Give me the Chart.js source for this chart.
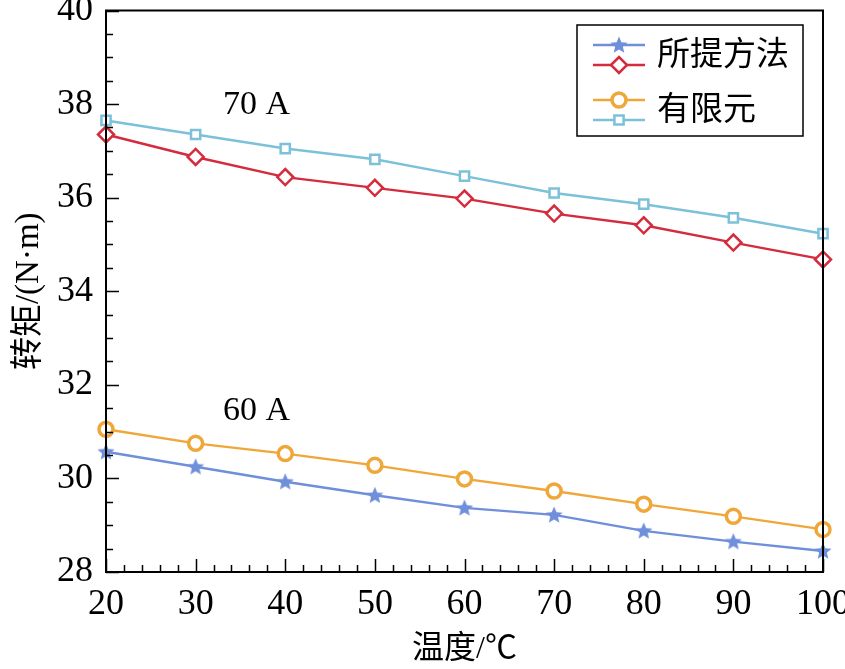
<!DOCTYPE html>
<html>
<head>
<meta charset="utf-8">
<script src="https://cdn.jsdelivr.net/npm/chart.js@4.4.0/dist/chart.umd.min.js"></script>
<style>
  html, body { margin: 0; padding: 0; background: #fff; }
</style>
</head>
<body>
<canvas id="grafico" width="845" height="669"></canvas>
<script>
// dados
const temperaturas = [20, 30, 40, 50, 60, 70, 80, 90, 100];
const proposto60 = [30.57, 30.25, 29.93, 29.64, 29.37, 29.22, 28.88, 28.65, 28.45];
const proposto70 = [37.35, 36.87, 36.44, 36.21, 35.98, 35.66, 35.41, 35.04, 34.68];
const fem60 = [31.05, 30.75, 30.53, 30.28, 29.99, 29.73, 29.45, 29.19, 28.91];
const fem70 = [37.65, 37.35, 37.05, 36.82, 36.46, 36.10, 35.86, 35.57, 35.23];
const yTicks = [28, 30, 32, 34, 36, 38, 40];
const xTicks = [20, 30, 40, 50, 60, 70, 80, 90, 100];
const legendaNomes = ["所提方法", "有限元"];
const rotulos = ["70 A", "60 A"];
const rotulosX = [36.8, 36.8];
const rotulosY = [37.97, 31.44];

const serif = "'Liberation Serif', 'Noto Sans CJK SC', serif";
const cjk = "'Liberation Serif', 'Noto Sans CJK SC', serif";

// estrela preenchida para o marcador
function estrela(cor, r) {
  const c = document.createElement("canvas");
  c.width = r * 2 + 2;
  c.height = r * 2 + 2;
  const g = c.getContext("2d");
  g.beginPath();
  for (let i = 0; i < 10; i++) {
    const rad = i % 2 === 0 ? r : r * 0.45;
    const a = -Math.PI / 2 + (i * Math.PI) / 5;
    g.lineTo(r + 1 + rad * Math.cos(a), r + 1.5 + rad * Math.sin(a));
  }
  g.closePath();
  g.fillStyle = cor;
  g.fill();
  return c;
}

const azul = "#6f8fdb";
const vermelho = "#d42b3d";
const laranja = "#f0a73a";
const ciano = "#7cc1d9";
const star = estrela(azul, 9);

function pontos(valores) {
  return temperaturas.map((t, i) => ({ x: t, y: valores[i] }));
}

function serie(valores, cor, estilo, raio, borda) {
  return {
    data: pontos(valores),
    borderColor: cor,
    backgroundColor: "#ffffff",
    pointBorderColor: cor,
    pointBackgroundColor: "#ffffff",
    pointStyle: estilo,
    pointRadius: raio,
    pointBorderWidth: borda,
    borderWidth: 2.4,
    tension: 0,
    clip: false,
  };
}

const datasets = [
  serie(proposto60, azul, star, 8, 0),
  serie(proposto70, vermelho, "rectRot", 8, 2.5),
  serie(fem60, laranja, "circle", 7, 3.5),
  serie(fem70, ciano, "rect", 6.5, 2.5),
];

// caixa, ticks para dentro, rótulos e legenda
const extras = {
  id: "extras",
  afterDraw(chart) {
    const ctx = chart.ctx;
    const a = chart.chartArea;
    const xs = chart.scales.x;
    const ys = chart.scales.y;
    ctx.save();
    ctx.strokeStyle = "#000";
    ctx.lineWidth = 2;
    ctx.strokeRect(a.left, a.top, a.right - a.left, a.bottom - a.top);

    ctx.lineWidth = 1.5;
    ctx.beginPath();
    for (let v = 28; v <= 40.001; v += 0.5) {
      const p = Math.round(ys.getPixelForValue(v)) + 0.5;
      const len = Math.abs(v % 2) < 0.01 ? 13 : 7;
      ctx.moveTo(a.left, p);
      ctx.lineTo(a.left + len, p);
    }
    for (let v = 20; v <= 100.001; v += 2) {
      const p = Math.round(xs.getPixelForValue(v)) + 0.5;
      const len = v % 10 === 0 ? 13 : 7;
      ctx.moveTo(p, a.bottom);
      ctx.lineTo(p, a.bottom - len);
    }
    ctx.stroke();

    // rótulos 70 A / 60 A
    ctx.fillStyle = "#000";
    ctx.font = "34px " + serif;
    ctx.textAlign = "center";
    ctx.textBaseline = "middle";
    rotulos.forEach((txt, i) => {
      ctx.fillText(txt, xs.getPixelForValue(rotulosX[i]), ys.getPixelForValue(rotulosY[i]));
    });

    // legenda
    const bx = 577, by = 25, bw = 226, bh = 111;
    ctx.fillStyle = "#fff";
    ctx.fillRect(bx, by, bw, bh);
    ctx.lineWidth = 1.5;
    ctx.strokeStyle = "#000";
    ctx.strokeRect(bx, by, bw, bh);
    const linhasY = [45, 65, 100, 120];
    datasets.forEach((ds, i) => {
      const y = linhasY[i];
      ctx.strokeStyle = ds.borderColor;
      ctx.lineWidth = 2.4;
      ctx.beginPath();
      ctx.moveTo(593, y);
      ctx.lineTo(645, y);
      ctx.stroke();
      ctx.fillStyle = "#fff";
      ctx.strokeStyle = ds.pointBorderColor;
      ctx.lineWidth = ds.pointBorderWidth;
      Chart.helpers.drawPoint(ctx, {
        pointStyle: ds.pointStyle,
        radius: ds.pointRadius,
        rotation: 0,
        borderWidth: ds.pointBorderWidth,
      }, 619, y);
    });
    ctx.fillStyle = "#000";
    ctx.font = "33px " + cjk;
    ctx.textAlign = "left";
    ctx.textBaseline = "middle";
    ctx.fillText(legendaNomes[0], 657, 56);
    ctx.fillText(legendaNomes[1], 657, 111);
    ctx.restore();
  },
};

const ctx = document.getElementById("grafico").getContext("2d");
const grafico = new Chart(ctx, {
  type: "line",
  data: { datasets: datasets },
  options: {
    responsive: false,
    animation: false,
    layout: { padding: { left: 0, top: 10, right: 22, bottom: 0 } },
    plugins: { legend: { display: false }, tooltip: { enabled: false } },
    scales: {
      x: {
        type: "linear",
        min: 20,
        max: 100,
        afterBuildTicks: (s) => { s.ticks = xTicks.map((v) => ({ value: v })); },
        afterFit: (s) => { s.height = 97; s.paddingLeft = 0; s.paddingRight = 0; },
        grid: { display: false, drawTicks: false },
        border: { display: false },
        ticks: { color: "#000", font: { family: serif, size: 36 }, padding: 11, maxRotation: 0 },
        title: {
          display: true,
          text: "温度/℃",
          color: "#000",
          font: { family: cjk, size: 32 },
          padding: { top: 0, bottom: 0 },
        },
      },
      y: {
        min: 28,
        max: 40,
        afterBuildTicks: (s) => { s.ticks = yTicks.map((v) => ({ value: v })); },
        afterFit: (s) => { s.width = 106; s.paddingTop = 0; s.paddingBottom = 0; },
        grid: { display: false, drawTicks: false },
        border: { display: false },
        ticks: { color: "#000", font: { family: serif, size: 36 }, padding: 13 },
        title: {
          display: true,
          text: "转矩/(N·m)",
          color: "#000",
          font: { family: cjk, size: 33 },
          padding: { top: 10, bottom: 0 },
        },
      },
    },
  },
  plugins: [extras],
});
</script>
</body>
</html>
